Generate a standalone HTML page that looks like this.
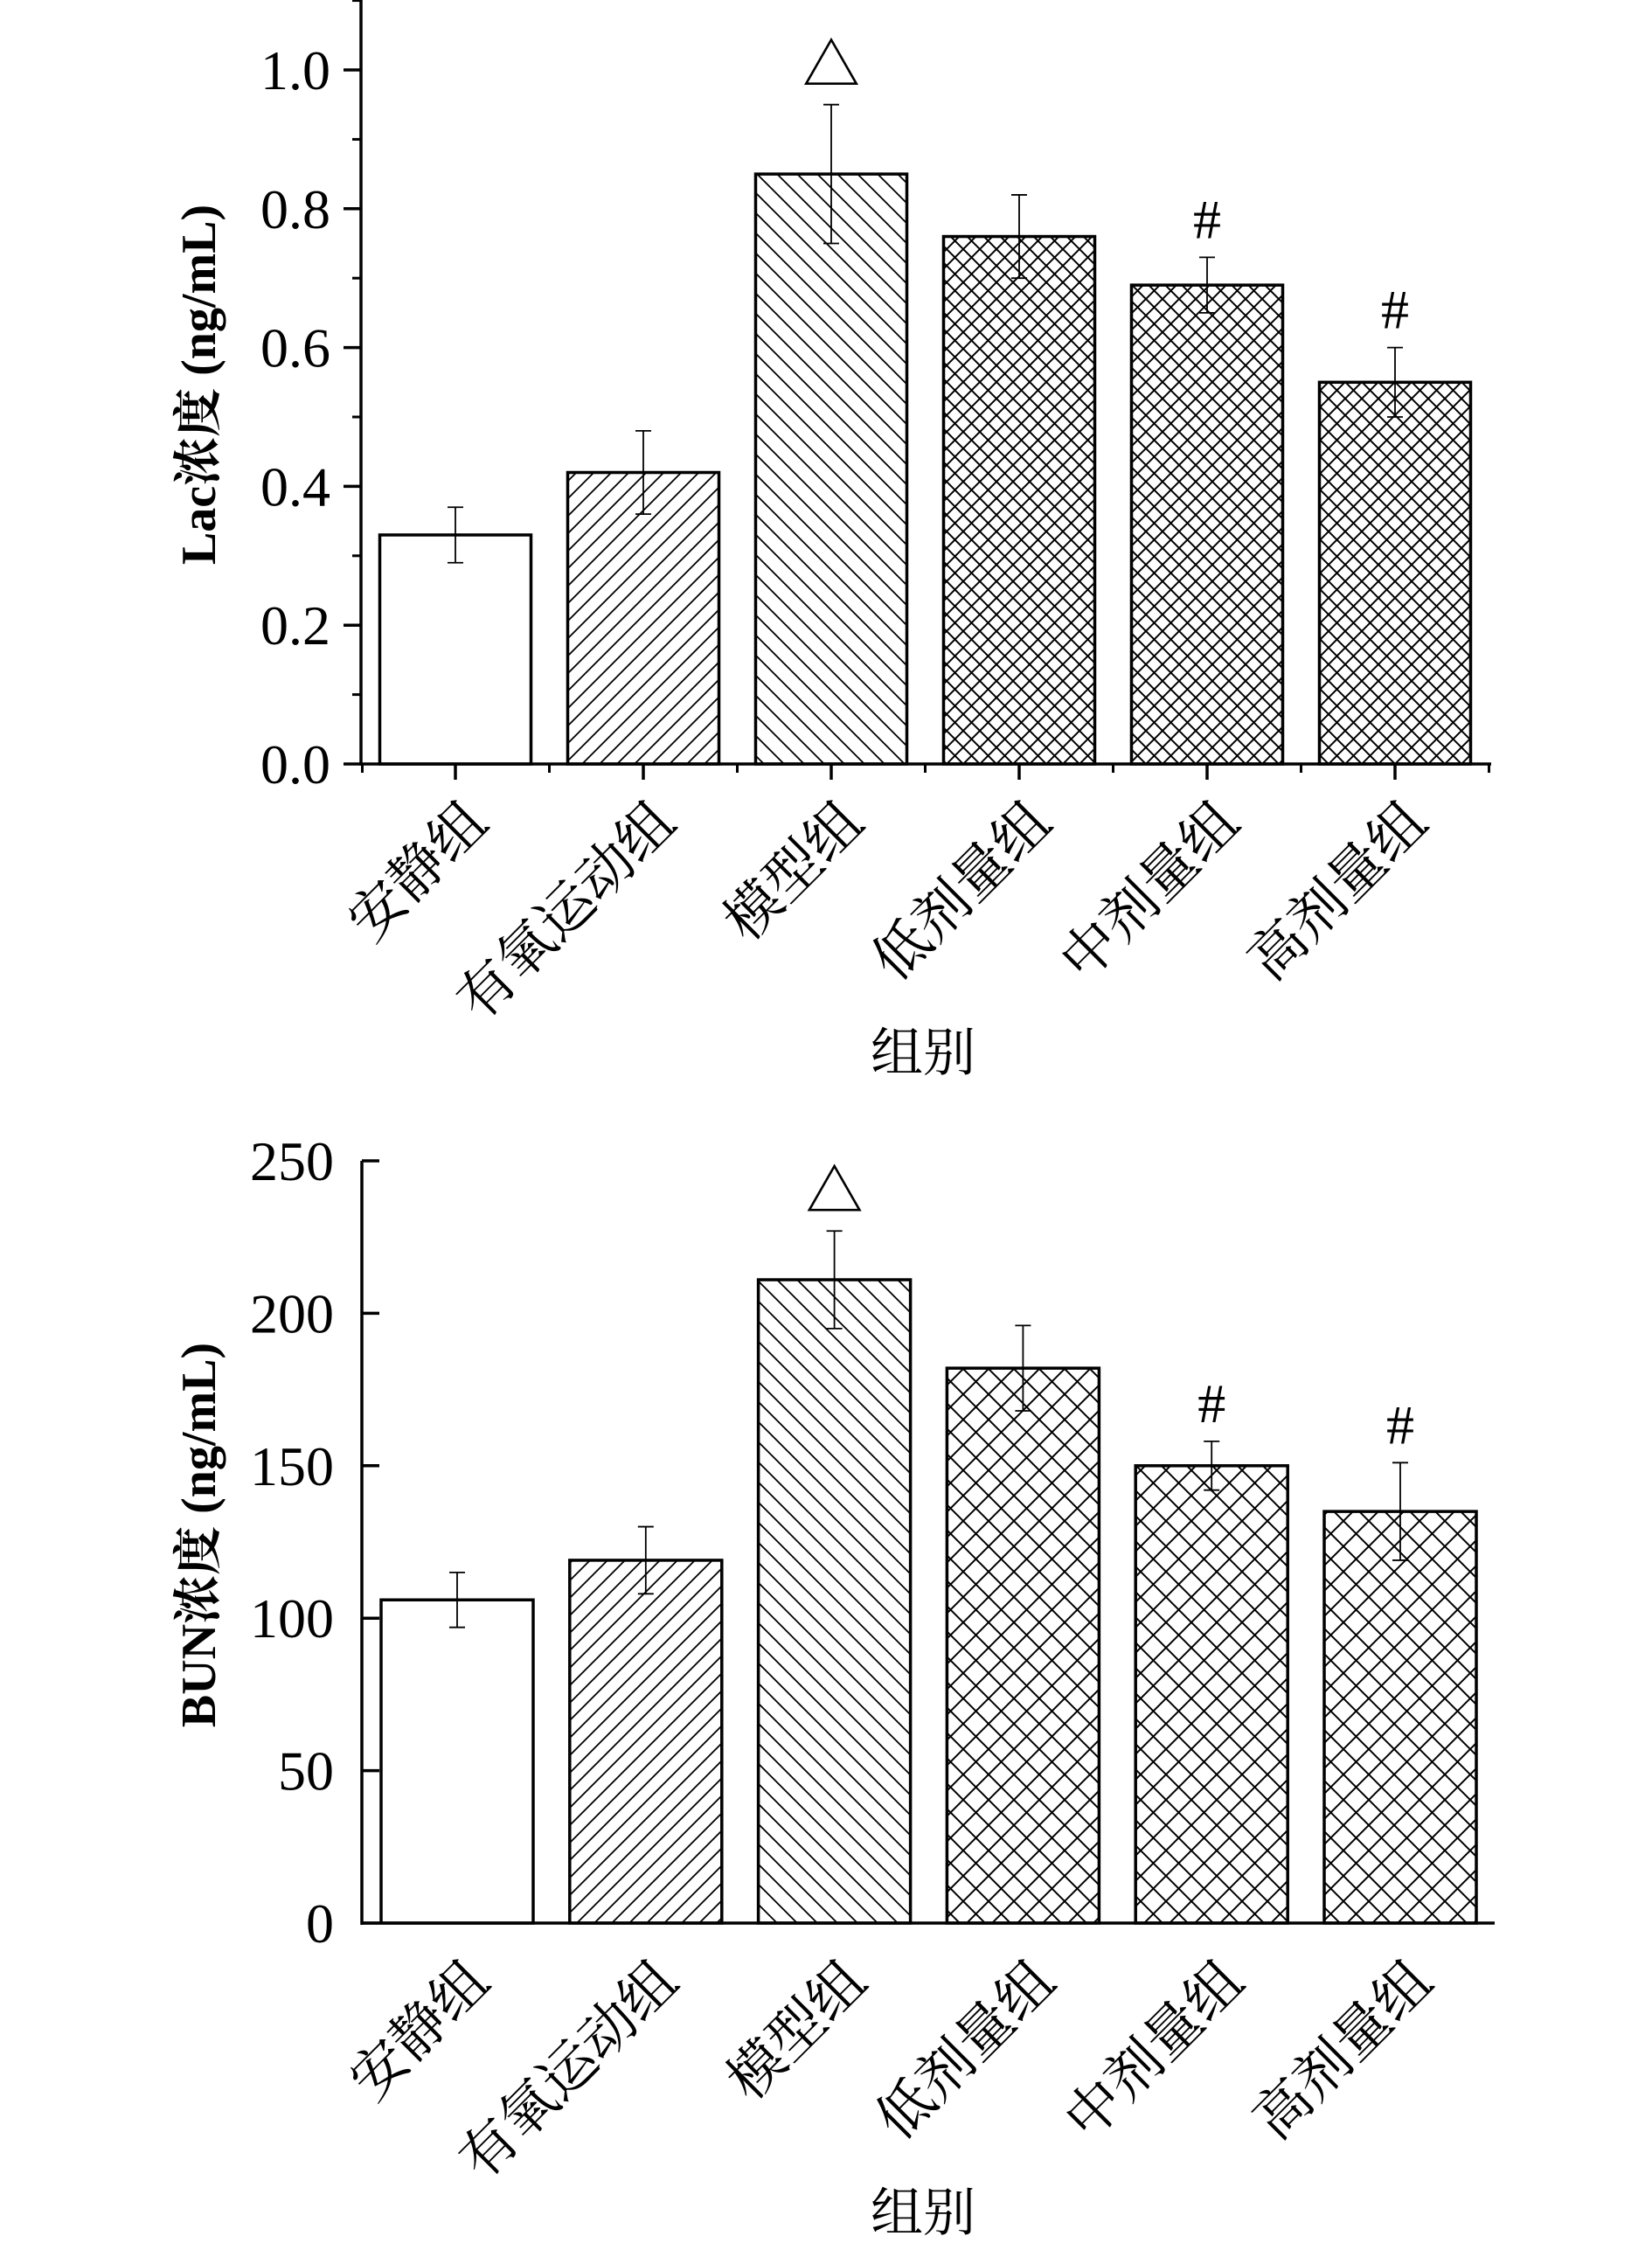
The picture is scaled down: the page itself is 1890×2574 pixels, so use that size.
<!DOCTYPE html>
<html><head><meta charset="utf-8"><style>
html,body{margin:0;padding:0;background:#fff;}
svg{display:block;font-family:"Liberation Serif","Noto Serif CJK SC",serif;}
</style></head><body>
<svg id="chart" width="1890" height="2574" viewBox="0 0 1890 2574" xmlns="http://www.w3.org/2000/svg">
<defs>
<pattern id="p-fwd" patternUnits="userSpaceOnUse" width="20" height="20"><path d="M-5,5 L5,-5 M0,20 L20,0 M15,25 L25,15" stroke="#000" stroke-width="1.8"/></pattern>
<pattern id="p-back" patternUnits="userSpaceOnUse" width="23" height="23"><path d="M-5,18 L5,28 M0,0 L23,23 M18,-5 L28,5" stroke="#000" stroke-width="1.8"/></pattern>
<pattern id="p-x1" patternUnits="userSpaceOnUse" width="19" height="19"><path d="M0,0 L19,19 M0,19 L19,0" stroke="#000" stroke-width="2"/></pattern>
<pattern id="p-x2" patternUnits="userSpaceOnUse" width="29" height="29"><path d="M0,0 L29,29 M0,29 L29,0" stroke="#000" stroke-width="2"/></pattern>
</defs>
</svg>
<script>
const categories = ["安静组","有氧运动组","模型组","低剂量组","中剂量组","高剂量组"];
const lacValues = [0.33,0.42,0.85,0.76,0.69,0.55];
const lacErrors = [0.04,0.06,0.10,0.06,0.04,0.05];
const lacMarks = ["","","△","","#","#"];
const lacTicks = ["0.0","0.2","0.4","0.6","0.8","1.0"];
const bunValues = [106,119,211,182,150,135];
const bunErrors = [9,11,16,14,8,16];
const bunMarks = ["","","△","","#","#"];
const bunTicks = ["0","50","100","150","200","250"];
const fills = ["#fff","url(#p-fwd)","url(#p-back)","url(#p-x1)","url(#p-x1)","url(#p-x1)"];
const fills2 = ["#fff","url(#p-fwd)","url(#p-back)","url(#p-x2)","url(#p-x2)","url(#p-x2)"];

const svg = document.getElementById('chart');
const NS = 'http://www.w3.org/2000/svg';
function mk(tag, attrs, parent){const e=document.createElementNS(NS,tag);for(const k in attrs)e.setAttribute(k,attrs[k]);(parent||svg).appendChild(e);return e;}

function drawChart(o){
  const g = mk('g',{});
  
  
  const y = v => o.y0 - (v - o.vmin)/(o.vmax - o.vmin)*(o.y0 - o.y1);
  const step = o.step;
  const bw = o.bw;
  const xc = i => o.c0 + step*i;
  o.values.forEach((v,i)=>{
    const r = mk('rect',{x:xc(i)-bw/2,y:y(v),width:bw,height:o.y0-y(v),fill:o.fills[i],stroke:'#000','stroke-width':3.5},g);
    
    
    const e = o.errors[i];
    const eb = mk('path',{d:`M${xc(i)},${y(v+e)} V${y(v-e)} M${xc(i)-9},${y(v+e)} H${xc(i)+9} M${xc(i)-9},${y(v-e)} H${xc(i)+9}`,stroke:'#000','stroke-width':1.8,fill:'none'},g);
    
    
    if(o.marks[i]){
      const t = mk('text',{x:xc(i),y:y(v+e)-22,'text-anchor':'middle','font-size':o.marks[i]==='△'?66:64},g);
      t.textContent = o.marks[i];
      
      
    }
  });
  const ya = mk('line',{x1:o.x0,y1:o.yTop,x2:o.x0,y2:o.y0+(o.xticks?1.5:2),stroke:'#000','stroke-width':3.5},g);
  
  
  const xa = mk('line',{x1:o.x0-1.5,y1:o.y0,x2:o.xEnd,y2:o.y0,stroke:'#000','stroke-width':3.5},g);
  
  
  const n = o.ticks.length;
  const tdir = o.tickIn ? 1 : -1;
  o.ticks.forEach((lab,i)=>{
    const v = o.vmin + (o.vmax-o.vmin)*i/(n-1);
    mk('line',{x1:o.x0+tdir*20,y1:y(v),x2:o.x0,y2:y(v),stroke:'#000','stroke-width':3.5},g);
    if(o.minor){const vm=v+(o.vmax-o.vmin)/(n-1)/2;mk('line',{x1:o.x0-10,y1:y(vm),x2:o.x0,y2:y(vm),stroke:'#000','stroke-width':3},g);}
    const t = mk('text',{x:o.labelX,y:y(v)+22,'text-anchor':'end','font-size':64},g);
    t.textContent = lab;
    
    
  });
  categories.forEach((c,i)=>{
    if(o.xticks){
      mk('line',{x1:xc(i),y1:o.y0,x2:xc(i),y2:o.y0+18,stroke:'#000','stroke-width':3.5},g);
      mk('line',{x1:xc(i)+step/2,y1:o.y0,x2:xc(i)+step/2,y2:o.y0+10,stroke:'#000','stroke-width':3},g);
      if(i===0) mk('line',{x1:xc(i)-step/2+1,y1:o.y0,x2:xc(i)-step/2+1,y2:o.y0+10,stroke:'#000','stroke-width':3},g);
    }
    const tx = xc(i)+40, ty = o.y0+70;
    const t = mk('text',{x:tx,y:ty,'text-anchor':'end','font-size':64,transform:`rotate(-45 ${tx} ${ty})`},g);
    t.textContent = c;
    
    
  });
  const xt = mk('text',{x:1056,y:o.xTitleY,'text-anchor':'middle','font-size':60},g);
  xt.textContent = '组别';
  
  
  const yt = mk('text',{x:0,y:0,'text-anchor':'middle','font-size':56,'font-weight':'bold',transform:`translate(246 ${o.yTitleY}) rotate(-90)`},g);
  yt.textContent = o.yTitle;
  
  
}

drawChart({name:'lac-chart',x0:413,xEnd:1706,c0:521,step:215,bw:173,y0:874,y1:80,yTop:0,vmin:0,vmax:1.0,
  values:lacValues,errors:lacErrors,marks:lacMarks,ticks:lacTicks,fills:fills,minor:true,xticks:true,tickIn:false,labelX:378,
  xTitleY:1225,yTitleY:440,yTitle:'Lac浓度 (ng/mL)'});
drawChart({name:'bun-chart',x0:414,xEnd:1710,c0:523,step:215.8,bw:174,y0:2200,y1:1328,yTop:1328,vmin:0,vmax:250,
  values:bunValues,errors:bunErrors,marks:bunMarks,ticks:bunTicks,fills:fills2,minor:false,xticks:false,tickIn:true,labelX:382,
  xTitleY:2552,yTitleY:1756,yTitle:'BUN浓度 (ng/mL)'});
</script>
</body></html>
